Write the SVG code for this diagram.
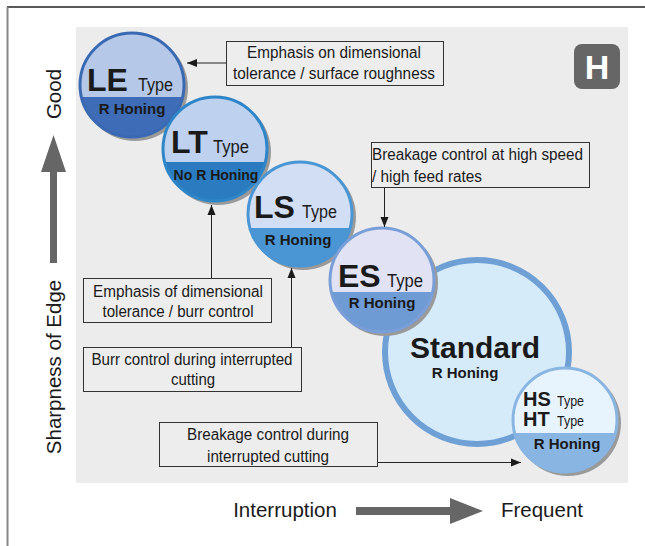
<svg xmlns="http://www.w3.org/2000/svg" width="645" height="546" viewBox="0 0 645 546">
<style>
.t{font-family:"Liberation Sans",Arial,sans-serif;fill:#1a1a1a}
.big{font-weight:bold;font-size:32px}
.typ{font-size:18px}
.hon{font-weight:bold;font-size:15px}
.box{fill:#ededed;stroke:#333;stroke-width:1}
.bt{font-size:16px;text-anchor:middle}
.bl{font-size:16px}
.ax{font-size:20.5px}
.con{stroke:#222;stroke-width:1;fill:none}
.shadow{fill:#9a9a9a}
</style>
<defs>
<marker id="ah" viewBox="0 0 10 10" refX="10" refY="5" markerWidth="10" markerHeight="10" markerUnits="userSpaceOnUse" orient="auto">
<path d="M0,1 L10,5 L0,9 Z" fill="#1a1a1a"/>
</marker>
<clipPath id="cLE"><circle cx="132" cy="85" r="52"/></clipPath>
<clipPath id="cLT"><circle cx="215" cy="149" r="52"/></clipPath>
<clipPath id="cLS"><circle cx="300" cy="214" r="52"/></clipPath>
<clipPath id="cES"><circle cx="382" cy="280" r="52"/></clipPath>
<clipPath id="cHS"><circle cx="565" cy="420" r="52"/></clipPath>
</defs>
<rect width="645" height="546" fill="#fff"/>
<line x1="7" y1="7" x2="645" y2="7" stroke="#222" stroke-width="1.5"/>
<line x1="7.5" y1="7" x2="7.5" y2="546" stroke="#888" stroke-width="2"/>
<rect x="76" y="27" width="552" height="456" fill="#ececec"/>

<g id="badge">
<rect x="574" y="44" width="46" height="45" rx="8" fill="#666"/>
<text class="t" x="597" y="79" text-anchor="middle" font-weight="bold" font-size="34" style="fill:#fff">H</text>
</g>

<g id="LE">
<circle class="shadow" cx="135" cy="88" r="53"/>
<circle cx="132" cy="85" r="52" fill="#b5c8e8"/>
<rect x="78" y="97" width="110" height="45" fill="#3e6cb6" clip-path="url(#cLE)"/>
<circle cx="132" cy="85" r="52" fill="none" stroke="#3a69b3" stroke-width="3"/>
<text class="t big" x="87" y="91">LE</text>
<text class="t typ" x="138" y="91" textLength="35" lengthAdjust="spacingAndGlyphs">Type</text>
<text class="t hon" x="132" y="114" text-anchor="middle">R Honing</text>
</g>

<g id="LT">
<circle class="shadow" cx="218" cy="152" r="53"/>
<circle cx="215" cy="149" r="52" fill="#bed1ee"/>
<rect x="161" y="162" width="110" height="45" fill="#2b7bc0" clip-path="url(#cLT)"/>
<circle cx="215" cy="149" r="52" fill="none" stroke="#2e86c8" stroke-width="3"/>
<text class="t big" x="171" y="153">LT</text>
<text class="t typ" x="213" y="153" textLength="36" lengthAdjust="spacingAndGlyphs">Type</text>
<text class="t" x="216" y="180" text-anchor="middle" font-weight="bold" font-size="14">No R Honing</text>
</g>

<g id="LS">
<circle class="shadow" cx="303" cy="217" r="53"/>
<circle cx="300" cy="214" r="52" fill="#d1def3"/>
<rect x="246" y="228" width="110" height="45" fill="#4a95d3" clip-path="url(#cLS)"/>
<circle cx="300" cy="214" r="52" fill="none" stroke="#4a95d3" stroke-width="3"/>
<text class="t big" x="254" y="218">LS</text>
<text class="t typ" x="302" y="218" textLength="35" lengthAdjust="spacingAndGlyphs">Type</text>
<text class="t hon" x="298" y="245" text-anchor="middle">R Honing</text>
</g>

<g id="Standard">
<circle cx="477" cy="352" r="92" fill="#d5ebfa" stroke="#6ea0d6" stroke-width="6"/>
<text class="t" x="475" y="358" text-anchor="middle" font-weight="bold" font-size="30">Standard</text>
<text class="t hon" x="465" y="378" text-anchor="middle">R Honing</text>
</g>

<g id="ES">
<circle class="shadow" cx="385" cy="283" r="53"/>
<circle cx="382" cy="280" r="52" fill="#e1e3f5"/>
<rect x="328" y="292" width="110" height="45" fill="#6e9bd3" clip-path="url(#cES)"/>
<circle cx="382" cy="280" r="52" fill="none" stroke="#7a9fd8" stroke-width="3"/>
<text class="t big" x="338" y="287">ES</text>
<text class="t typ" x="387" y="287" textLength="36" lengthAdjust="spacingAndGlyphs">Type</text>
<text class="t hon" x="382" y="308" text-anchor="middle">R Honing</text>
</g>

<g id="HS">
<circle class="shadow" cx="568" cy="423" r="53"/>
<circle cx="565" cy="420" r="52" fill="#e8f4fd"/>
<rect x="511" y="433" width="110" height="45" fill="#89b5e2" clip-path="url(#cHS)"/>
<circle cx="565" cy="420" r="52" fill="none" stroke="#89b5e2" stroke-width="3"/>
<text class="t" x="523" y="406" font-weight="bold" font-size="20">HS</text>
<text class="t" x="557" y="406" font-size="15" textLength="27" lengthAdjust="spacingAndGlyphs">Type</text>
<text class="t" x="523" y="426" font-weight="bold" font-size="20">HT</text>
<text class="t" x="557" y="426" font-size="15" textLength="27" lengthAdjust="spacingAndGlyphs">Type</text>
<text class="t hon" x="567" y="449" text-anchor="middle">R Honing</text>
</g>

<g id="box1">
<rect class="box" x="226.5" y="41.5" width="217" height="44"/>
<text class="t bt" x="334" y="58" textLength="174" lengthAdjust="spacingAndGlyphs">Emphasis on dimensional</text>
<text class="t bt" x="334" y="79" textLength="202" lengthAdjust="spacingAndGlyphs">tolerance / surface roughness</text>
</g>
<g id="box2">
<rect class="box" x="371.5" y="142.5" width="218" height="45"/>
<text class="t bl" x="372" y="160" textLength="211" lengthAdjust="spacingAndGlyphs">Breakage control at high speed</text>
<text class="t bl" x="372" y="182" textLength="110" lengthAdjust="spacingAndGlyphs">/ high feed rates</text>
</g>
<g id="box3">
<rect class="box" x="83.5" y="278.5" width="188" height="44"/>
<text class="t bt" x="178" y="297" textLength="170" lengthAdjust="spacingAndGlyphs">Emphasis of dimensional</text>
<text class="t bt" x="178" y="317" textLength="151" lengthAdjust="spacingAndGlyphs">tolerance / burr control</text>
</g>
<g id="box4">
<rect class="box" x="83.5" y="347.5" width="218" height="44"/>
<text class="t bt" x="192" y="365" textLength="201" lengthAdjust="spacingAndGlyphs">Burr control during interrupted</text>
<text class="t bt" x="193" y="385" textLength="44" lengthAdjust="spacingAndGlyphs">cutting</text>
</g>
<g id="box5">
<rect class="box" x="159.5" y="422.5" width="218" height="44"/>
<text class="t bt" x="268" y="440" textLength="162" lengthAdjust="spacingAndGlyphs">Breakage control during</text>
<text class="t bt" x="268" y="462" textLength="122" lengthAdjust="spacingAndGlyphs">interrupted cutting</text>
</g>

<g id="connectors">
<line class="con" x1="226" y1="63" x2="187" y2="63" marker-end="url(#ah)"/>
<line class="con" x1="384.5" y1="188" x2="384.5" y2="227" marker-end="url(#ah)"/>
<line class="con" x1="211.5" y1="278" x2="211.5" y2="205" marker-end="url(#ah)"/>
<line class="con" x1="291.5" y1="347" x2="291.5" y2="268" marker-end="url(#ah)"/>
<line class="con" x1="378" y1="462.5" x2="521" y2="462.5" marker-end="url(#ah)"/>
</g>

<g id="axes">
<text class="t ax" transform="translate(61,94) rotate(-90)" text-anchor="middle">Good</text>
<path d="M50,263 L50,172 L41,172 L53.5,135 L66,172 L57,172 L57,263 Z" fill="#666"/>
<text class="t ax" transform="translate(61,367) rotate(-90)" text-anchor="middle">Sharpness of Edge</text>
<text class="t ax" x="285" y="517" text-anchor="middle">Interruption</text>
<path d="M356,507 L450,507 L450,498 L483,511 L450,524 L450,515 L356,515 Z" fill="#666"/>
<text class="t ax" x="542" y="517" text-anchor="middle">Frequent</text>
</g>
</svg>
